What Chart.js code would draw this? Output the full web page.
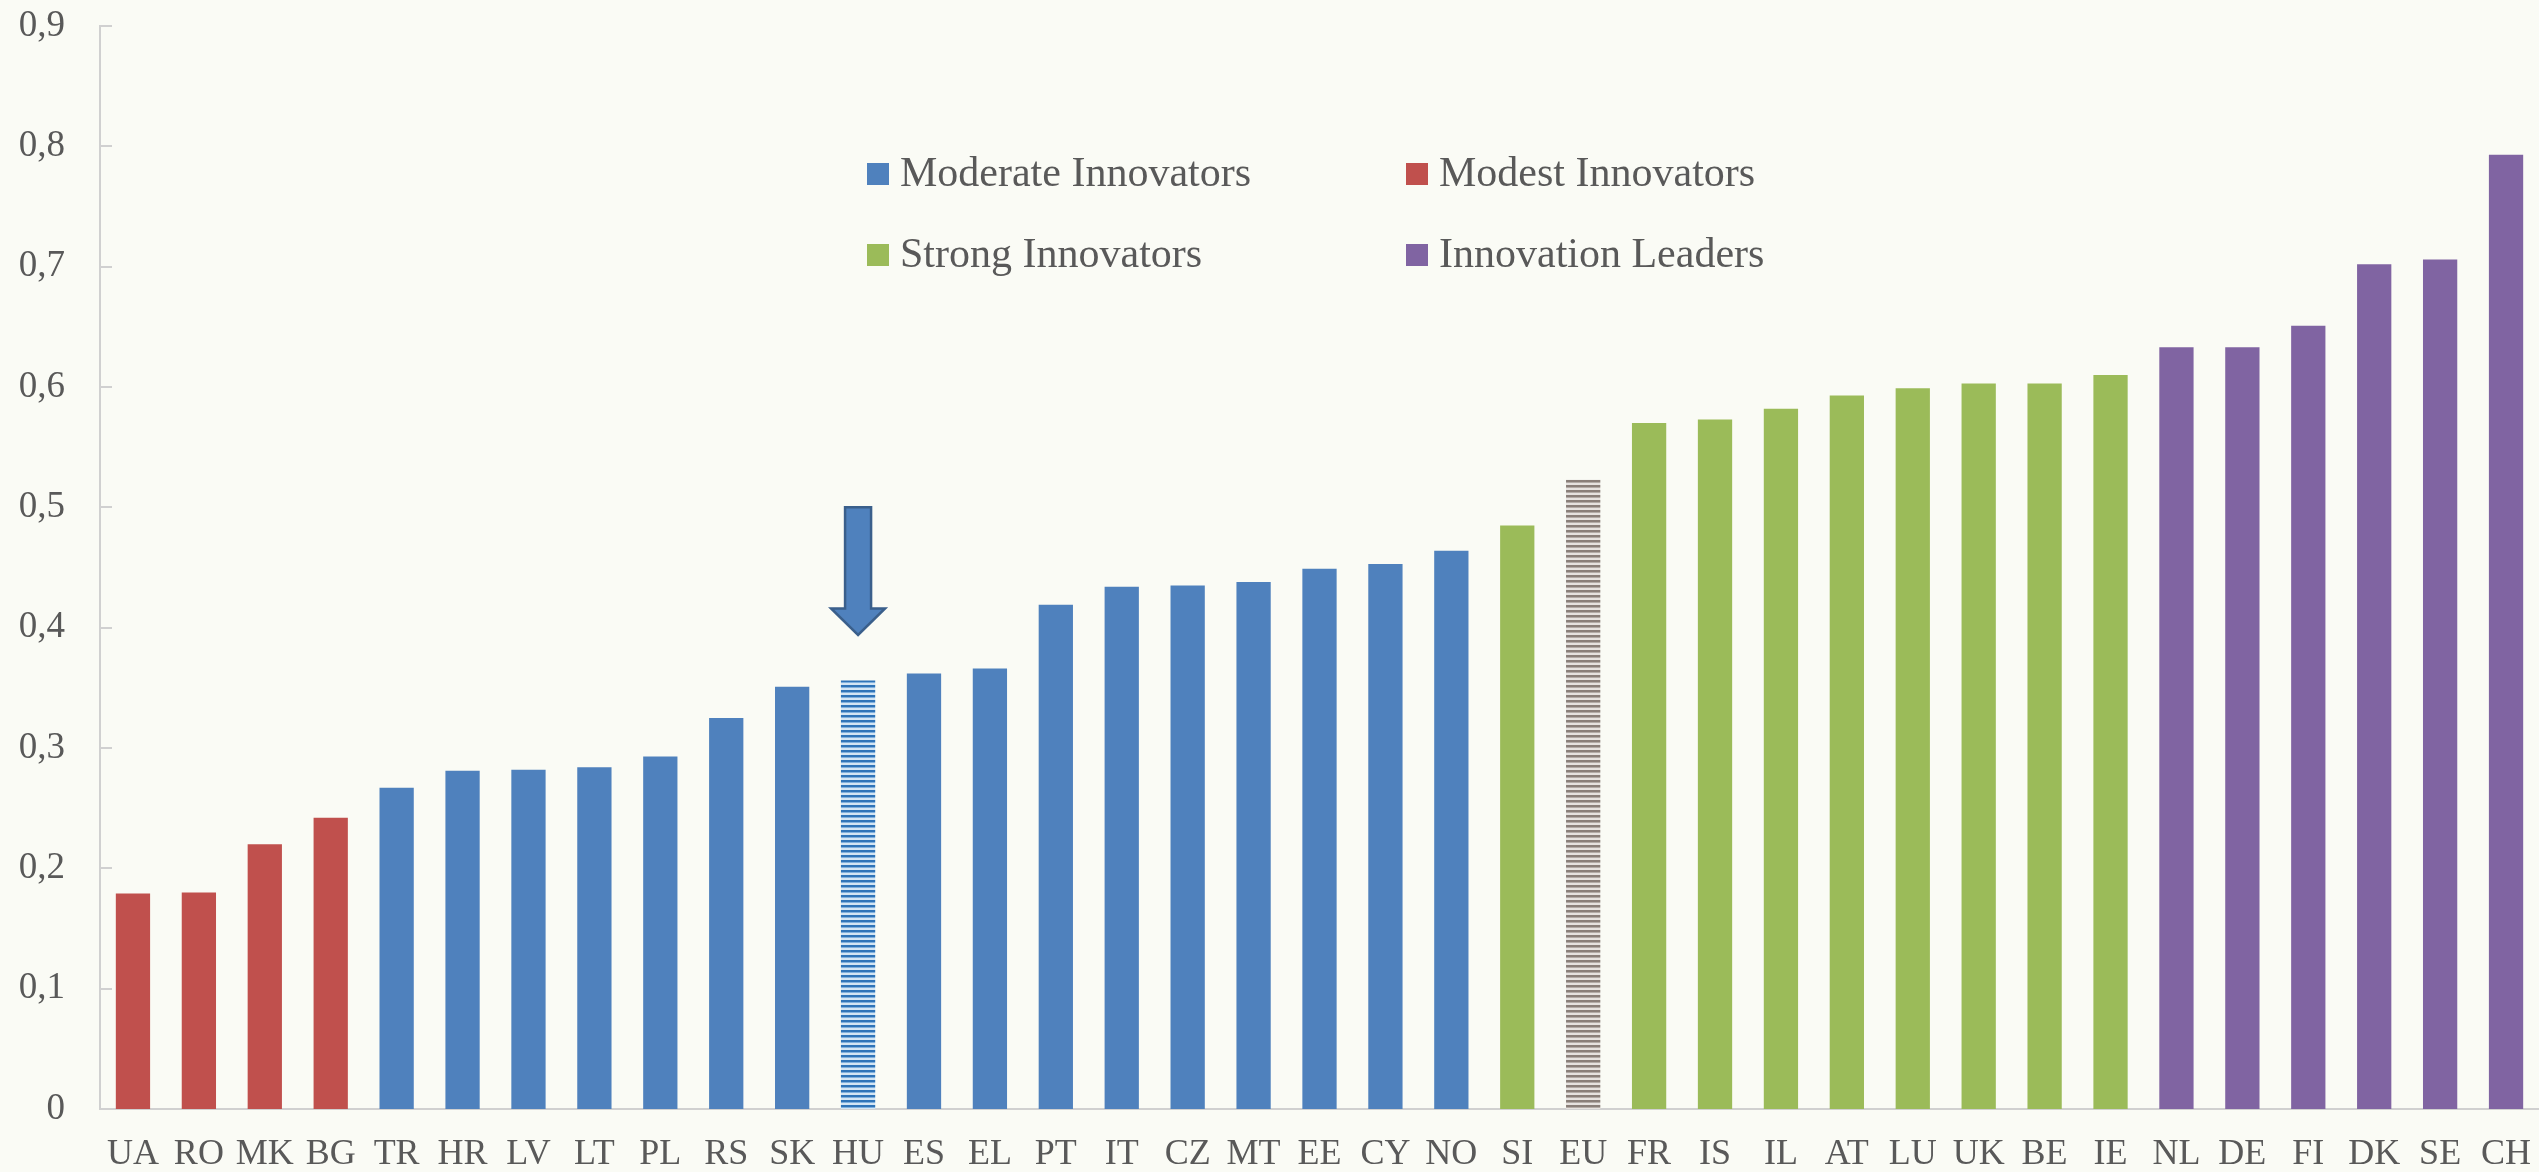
<!DOCTYPE html>
<html lang="en">
<head>
    <meta charset="UTF-8">
    <title>Innovation Scoreboard</title>
    <script src="https://cdn.jsdelivr.net/npm/chart.js"></script>
    <style>
        body {
            margin: 0;
            background: #fafbf5;
        }
        .chart-box {
            width: 2539px;
            height: 1172px;
            position: relative;
        }
    </style>
</head>
<body>
    <div class="chart-box">
        <canvas id="scoreChart"></canvas>
    </div>

    <script>
        const countries = ["UA", "RO", "MK", "BG", "TR", "HR", "LV", "LT", "PL", "RS", "SK", "HU", "ES", "EL", "PT", "IT", "CZ", "MT", "EE", "CY", "NO", "SI", "EU", "FR", "IS", "IL", "AT", "LU", "UK", "BE", "IE", "NL", "DE", "FI", "DK", "SE", "CH"];
        const scores = [0.179, 0.180, 0.220, 0.242, 0.267, 0.281, 0.282, 0.284, 0.293, 0.325, 0.351, 0.356, 0.362, 0.366, 0.419, 0.434, 0.435, 0.438, 0.449, 0.453, 0.464, 0.485, 0.523, 0.570, 0.573, 0.582, 0.593, 0.599, 0.603, 0.603, 0.610, 0.633, 0.633, 0.651, 0.702, 0.706, 0.793];
        // group of each country: modest, moderate, strong, leader, hu, eu
        const groups = ["modest", "modest", "modest", "modest", "moderate", "moderate", "moderate", "moderate", "moderate", "moderate", "moderate", "hu", "moderate", "moderate", "moderate", "moderate", "moderate", "moderate", "moderate", "moderate", "moderate", "strong", "eu", "strong", "strong", "strong", "strong", "strong", "strong", "strong", "strong", "leader", "leader", "leader", "leader", "leader", "leader"];
        const yTickLabels = ["0", "0,1", "0,2", "0,3", "0,4", "0,5", "0,6", "0,7", "0,8", "0,9"];
        const legendLabels = ["Moderate Innovators", "Modest Innovators", "Strong Innovators", "Innovation Leaders"];
        const legendGroups = ["moderate", "modest", "strong", "leader"];

        const FONT = "'Liberation Serif', 'Times New Roman', serif";
        const TEXT = "#595959";
        const AXIS = "#d0d0d0";

        function stripes(dark, mid, light) {
            const c = document.createElement("canvas");
            c.width = 4; c.height = 5;
            const g = c.getContext("2d");
            [dark, dark, mid, light, light].forEach((col, i) => {
                g.fillStyle = col;
                g.fillRect(0, i, 4, 1);
            });
            return g.createPattern(c, "repeat");
        }

        const colors = {
            moderate: "#4f81bd",
            modest: "#c0504d",
            strong: "#9bbb59",
            leader: "#8064a2",
            hu: stripes("#2f74b8", "#7fb0de", "#d3e5f4"),
            eu: stripes("#8a7f79", "#b3aba6", "#e6e2df")
        };

        // HU arrow annotation (values on the y scale)
        const arrowIndex = countries.indexOf("HU");
        const arrowTop = 0.5, arrowNeck = 0.416, arrowTip = 0.394;

        const decorPlugin = {
            id: "decor",
            beforeDraw(chart) {
                const ctx = chart.ctx;
                ctx.save();
                ctx.fillStyle = "#fafbf5";
                ctx.fillRect(0, 0, chart.width, chart.height);
                ctx.restore();
            },
            afterDraw(chart) {
                const ctx = chart.ctx;
                const x = chart.scales.x, y = chart.scales.y;
                const left = chart.chartArea.left;
                ctx.save();

                // inner tick marks on the y axis
                ctx.strokeStyle = AXIS;
                ctx.lineWidth = 2;
                y.ticks.forEach(t => {
                    const py = Math.round(y.getPixelForValue(t.value));
                    ctx.beginPath();
                    ctx.moveTo(left, py);
                    ctx.lineTo(left + 12, py);
                    ctx.stroke();
                });

                // arrow over HU
                const cx = x.getPixelForValue(arrowIndex);
                const yTop = y.getPixelForValue(arrowTop);
                const yNeck = y.getPixelForValue(arrowNeck);
                const yTip = y.getPixelForValue(arrowTip);
                ctx.beginPath();
                ctx.moveTo(cx - 13, yTop);
                ctx.lineTo(cx + 13, yTop);
                ctx.lineTo(cx + 13, yNeck);
                ctx.lineTo(cx + 27, yNeck);
                ctx.lineTo(cx, yTip);
                ctx.lineTo(cx - 27, yNeck);
                ctx.lineTo(cx - 13, yNeck);
                ctx.closePath();
                ctx.fillStyle = "#4f81bd";
                ctx.fill();
                ctx.strokeStyle = "#3a5f8b";
                ctx.lineWidth = 2.5;
                ctx.stroke();

                // legend, two columns
                ctx.font = "42px " + FONT;
                ctx.textBaseline = "alphabetic";
                const colX = [867, 1406], rowY = [163, 244];
                legendLabels.forEach((label, i) => {
                    const lx = colX[i % 2], ly = rowY[Math.floor(i / 2)];
                    ctx.fillStyle = colors[legendGroups[i]];
                    ctx.fillRect(lx, ly, 22, 22);
                    ctx.fillStyle = TEXT;
                    ctx.fillText(label, lx + 33, ly + 23);
                });
                ctx.restore();
            }
        };

        new Chart(document.getElementById("scoreChart"), {
            type: "bar",
            data: {
                labels: countries,
                datasets: [{
                    data: scores,
                    backgroundColor: groups.map(g => colors[g]),
                    barPercentage: 0.52,
                    categoryPercentage: 1.0
                }]
            },
            options: {
                responsive: true,
                maintainAspectRatio: false,
                animation: false,
                layout: { padding: { top: 26, right: 0, left: 0, bottom: 0 } },
                plugins: {
                    legend: { display: false },
                    tooltip: { enabled: false }
                },
                scales: {
                    x: {
                        grid: { display: false, drawTicks: false },
                        border: { display: true, color: AXIS, width: 2 },
                        ticks: {
                            color: TEXT,
                            font: { family: FONT, size: 36 },
                            padding: 24,
                            maxRotation: 0,
                            autoSkip: false
                        },
                        afterFit(scale) {
                            scale.height = 63;
                            scale.paddingLeft = 0;
                            scale.paddingRight = 0;
                        }
                    },
                    y: {
                        min: 0,
                        max: 0.9,
                        grid: { display: false, drawTicks: false },
                        border: { display: true, color: AXIS, width: 2 },
                        ticks: {
                            stepSize: 0.1,
                            color: TEXT,
                            font: { family: FONT, size: 37 },
                            padding: 35,
                            callback: (v, i) => yTickLabels[i]
                        },
                        afterFit(scale) {
                            scale.width = 100;
                            scale.paddingTop = 0;
                            scale.paddingBottom = 0;
                        }
                    }
                }
            },
            plugins: [decorPlugin]
        });
    </script>
</body>
</html>
